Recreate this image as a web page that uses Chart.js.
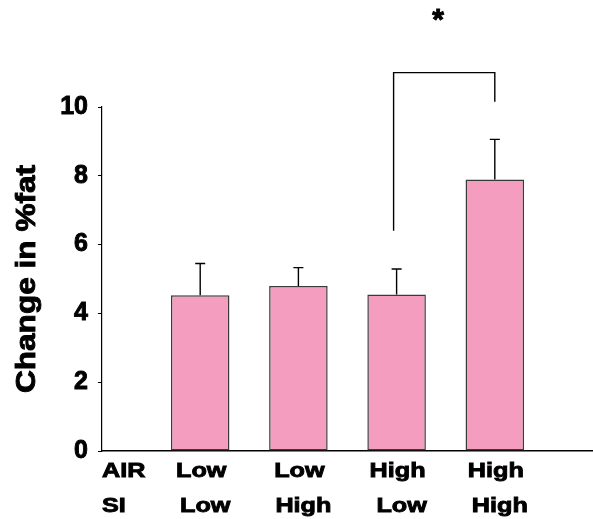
<!DOCTYPE html>
<html>
<head>
<meta charset="utf-8">
<script src="https://cdn.jsdelivr.net/npm/chart.js@4"></script>
<style>
  html, body { margin: 0; padding: 0; background: #fff; }
  #wrap { width: 593px; height: 519px; }
</style>
</head>
<body>
<div id="wrap"><canvas id="fatChart"></canvas></div>
<script>
// groups: AIR exposure / SI exposure (first slot is the row header, last slot pads the axis)
const airLevels = ['AIR', 'Low', 'Low', 'High', 'High', ''];
const siLevels = ['SI', 'Low', 'High', 'Low', 'High', ''];
const fatChange = [null, 4.53, 4.80, 4.55, 7.89, null];
const fatError = [null, 0.92, 0.53, 0.74, 1.17, null];
const yTicks = [0, 2, 4, 6, 8, 10];
const yTitle = 'Change in %fat';

// significance bracket between the two High-AIR groups
const sigFrom = 3;
const sigTo = 4;
const sigLevels = { top: 11.0, leftEnd: 6.4, rightEnd: 10.15, star: 12.5 };

const fontFamily = '"Liberation Sans", Arial, sans-serif';

//  fill + thin stroke, so the bold text looks as heavy as the original
function heavyText(ctx, text, x, y) {
  ctx.lineWidth = 0.9;
  ctx.strokeStyle = '#000';
  ctx.fillText(text, x, y);
  ctx.strokeText(text, x, y);
}

//  draws upward error bars, the significance bracket and the two rows of labels
const extrasPlugin = {
  id: 'extras',
  afterDatasetsDraw(chart) {
    const ctx = chart.ctx;
    const x = chart.scales.x;
    const y = chart.scales.y;

    ctx.save();
    ctx.strokeStyle = '#000';
    ctx.lineWidth = 1.4;
    fatChange.forEach((v, i) => {
      if (v === null) return;
      const px = x.getPixelForValue(i);
      const top = y.getPixelForValue(v + fatError[i]);
      ctx.beginPath();
      ctx.moveTo(px, y.getPixelForValue(v));
      ctx.lineTo(px, top);
      ctx.moveTo(px - 5, top);
      ctx.lineTo(px + 5, top);
      ctx.stroke();
    });

    // bracket
    const xl = x.getPixelForValue(sigFrom) - 3;
    const xr = x.getPixelForValue(sigTo);
    ctx.beginPath();
    ctx.moveTo(xl, y.getPixelForValue(sigLevels.leftEnd));
    ctx.lineTo(xl, y.getPixelForValue(sigLevels.top));
    ctx.lineTo(xr, y.getPixelForValue(sigLevels.top));
    ctx.lineTo(xr, y.getPixelForValue(sigLevels.rightEnd));
    ctx.stroke();

    ctx.fillStyle = '#000';
    ctx.font = 'bold 30px ' + fontFamily;
    ctx.textAlign = 'center';
    ctx.textBaseline = 'middle';
    heavyText(ctx, '*', (xl + xr) / 2 - 6, y.getPixelForValue(sigLevels.star));
    ctx.restore();
  },
  afterDraw(chart) {
    const ctx = chart.ctx;
    const x = chart.scales.x;
    const y = chart.scales.y;
    const area = chart.chartArea;

    ctx.save();
    ctx.fillStyle = '#000';
    ctx.font = 'bold 21px ' + fontFamily;
    ctx.textBaseline = 'alphabetic';
    const rows = [[airLevels, area.bottom + 26, 1], [siLevels, area.bottom + 61, 5]];
    rows.forEach(([texts, baseY, shift]) => {
      texts.forEach((t, i) => {
        if (!t) return;
        const px = i === 0 ? area.left : x.getPixelForValue(i) + shift;
        ctx.save();
        ctx.translate(px, baseY);
        ctx.scale(1.2, 1);
        ctx.textAlign = i === 0 ? 'left' : 'center';
        heavyText(ctx, t, 0, 0);
        ctx.restore();
      });
    });

    // y axis title, stretched along its length like the original
    ctx.save();
    ctx.font = 'bold 27px ' + fontFamily;
    ctx.translate(28, (y.getPixelForValue(0) + y.getPixelForValue(10)) / 2);
    ctx.rotate(-Math.PI / 2);
    ctx.scale(1.17, 1);
    ctx.textAlign = 'center';
    ctx.textBaseline = 'middle';
    heavyText(ctx, yTitle, 0, 0);
    ctx.restore();
    ctx.restore();
  }
};

new Chart(document.getElementById('fatChart'), {
  type: 'bar',
  data: {
    labels: airLevels.map((a, i) => a + ' ' + siLevels[i]),
    datasets: [{
      data: fatChange,
      backgroundColor: '#F59DBE',
      borderColor: '#3a3a3a',
      borderWidth: 1.5,
      borderSkipped: false,
      categoryPercentage: 1,
      barPercentage: 0.596
    }]
  },
  options: {
    responsive: true,
    maintainAspectRatio: false,
    animation: false,
    layout: { padding: { top: 107, right: 0, bottom: 0, left: 0 } },
    plugins: { legend: { display: false }, tooltip: { enabled: false } },
    scales: {
      x: {
        offset: false,
        grid: { display: false },
        border: { display: true, color: '#000', width: 1.5 },
        ticks: { display: false },
        afterFit: (scale) => { scale.height = 68; }
      },
      y: {
        min: 0,
        max: 10,
        afterBuildTicks: (scale) => { scale.ticks = yTicks.map(v => ({ value: v })); },
        grid: { drawOnChartArea: false, tickLength: 4, color: '#000', tickColor: '#000' },
        border: { display: true, color: '#000', width: 1.2 },
        ticks: {
          color: '#000',
          padding: 10,
          textStrokeColor: '#000',
          textStrokeWidth: 0.9,
          font: { family: fontFamily, size: 25, weight: 'bold' }
        },
        afterFit: (scale) => { scale.width = 102; }
      }
    }
  },
  plugins: [extrasPlugin]
});
</script>
</body>
</html>
